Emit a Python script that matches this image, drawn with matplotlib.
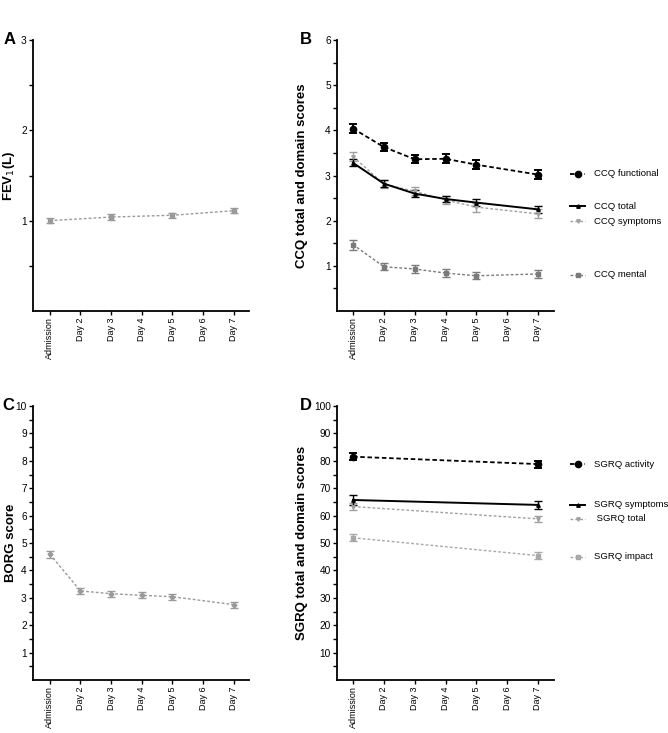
import numpy as np
import matplotlib.pyplot as plt

plt.rcParams['font.family'] = ['Liberation Sans', 'DejaVu Sans']

days = ["Admission", "Day 2", "Day 3", "Day 4", "Day 5", "Day 6", "Day 7"]

# FEV1 (L)
fev_x = [0, 2, 4, 6]
fev_mean = [1.00, 1.04, 1.06, 1.11]
fev_err = [0.03, 0.03, 0.03, 0.03]

# CCQ scores
ccq_x = [0, 1, 2, 3, 4, 6]
ccq_functional = [4.04, 3.63, 3.36, 3.37, 3.24, 3.02]
ccq_functional_err = [0.09, 0.08, 0.09, 0.10, 0.10, 0.10]
ccq_total = [3.28, 2.82, 2.60, 2.48, 2.40, 2.25]
ccq_total_err = [0.08, 0.07, 0.07, 0.07, 0.07, 0.07]
ccq_symptoms = [3.42, 2.81, 2.65, 2.46, 2.30, 2.15]
ccq_symptoms_err = [0.11, 0.09, 0.09, 0.09, 0.10, 0.10]
ccq_mental = [1.47, 0.98, 0.93, 0.84, 0.78, 0.82]
ccq_mental_err = [0.11, 0.08, 0.08, 0.08, 0.08, 0.08]

# BORG score
borg_x = [0, 1, 2, 3, 4, 6]
borg_mean = [4.59, 3.25, 3.15, 3.09, 3.04, 2.75]
borg_err = [0.13, 0.11, 0.11, 0.11, 0.11, 0.11]

# SGRQ scores
sgrq_x = [0, 6]
sgrq_activity = [81.5, 78.8]
sgrq_activity_err = [1.3, 1.3]
sgrq_symptoms = [65.7, 63.9]
sgrq_symptoms_err = [1.8, 1.6]
sgrq_total = [63.3, 58.8]
sgrq_total_err = [1.2, 1.1]
sgrq_impact = [51.9, 45.4]
sgrq_impact_err = [1.3, 1.2]

fig = plt.figure(figsize=(6.68, 7.33), dpi=100)
W, H = 668, 733


def make_ax(left, top, right, bottom):
    return fig.add_axes([left / W, 1 - bottom / H, (right - left) / W, (bottom - top) / H])


axA = make_ax(33, 40, 249, 311)
axB = make_ax(337, 40, 554, 311)
axC = make_ax(33, 406, 249, 680)
axD = make_ax(337, 406, 554, 680)


def style(ax, xlim, ylim, major, minor, label, label_x):
    ax.set_xlim(*xlim)
    ax.set_ylim(*ylim)
    for s in ["top", "right"]:
        ax.spines[s].set_visible(False)
    for s in ["left", "bottom"]:
        ax.spines[s].set_linewidth(1.3)
    ax.set_xticks(range(len(days)))
    ax.set_xticklabels(days, rotation=90, fontsize=6.5)
    ax.set_yticks(major)
    ax.set_yticklabels([str(v) for v in major], fontsize=7.3)
    ax.set_yticks(minor, minor=True)
    ax.tick_params(axis="both", which="major", length=3, width=1, pad=1.5)
    ax.tick_params(axis="y", which="minor", length=3, width=1)
    ax.set_ylabel(label, fontsize=9.5, fontweight="bold")
    ax.yaxis.set_label_coords(label_x, 0.5)


def series(ax, x, y, e, color, ls, marker, ms, lw=1.0, elw=1.0):
    ax.errorbar(x, y, yerr=e, color=color, ls=ls, lw=lw, marker=marker,
                ms=ms, capsize=2.8, elinewidth=elw, capthick=elw, clip_on=False)


def legend_entry(ax, yf, text, color, ls, marker, ms, lw):
    ax.plot([1.075, 1.145], [yf, yf], transform=ax.transAxes, color=color, ls=ls, lw=lw,
            clip_on=False)
    ax.plot([1.11], [yf], transform=ax.transAxes, color=color, marker=marker, ms=ms,
            clip_on=False)
    ax.text(1.185, yf, text, transform=ax.transAxes, fontsize=6.8, va="center")


# A
style(axA, (-0.55, 6.5), (0, 3), [1, 2, 3], [0.5, 1.5, 2.5], "FEV$_1$(L)", -0.072)
series(axA, fev_x, fev_mean, fev_err, "#9a9a9a", (0, (2, 1.5)), "s", 2.5, lw=1.0)

# B
style(axB, (-0.52, 6.52), (0, 6), [1, 2, 3, 4, 5, 6], [0.5, 1.5, 2.5, 3.5, 4.5, 5.5],
      "CCQ total and domain scores", -0.134)
series(axB, ccq_x, ccq_symptoms, ccq_symptoms_err, "#a0a0a0", (0, (2, 1.5)), "v", 2.5)
series(axB, ccq_x, ccq_mental, ccq_mental_err, "#7a7a7a", (0, (2, 1.5)), "s", 3)
series(axB, ccq_x, ccq_total, ccq_total_err, "black", "-", "^", 2.5, lw=1.4)
series(axB, ccq_x, ccq_functional, ccq_functional_err, "black", (0, (2.5, 1.5)), "o", 4.5,
       lw=1.3, elw=1.4)

legend_entry(axB, 0.506, "CCQ functional", "black", (0, (2.5, 1.5)), "o", 4.5, 1.3)
legend_entry(axB, 0.387, "CCQ total", "black", "-", "^", 2.5, 1.4)
legend_entry(axB, 0.332, "CCQ symptoms", "#a0a0a0", (0, (2, 1.5)), "v", 2.5, 1.0)
legend_entry(axB, 0.133, "CCQ mental", "#7a7a7a", (0, (2, 1.5)), "s", 3, 1.0)

# C
style(axC, (-0.55, 6.5), (0, 10), list(range(1, 11)), [v + 0.5 for v in range(10)],
      "BORG score", -0.072)
series(axC, borg_x, borg_mean, borg_err, "#9a9a9a", (0, (2, 1.5)), "D", 2.5)

# D
style(axD, (-0.52, 6.52), (0, 100), list(range(10, 101, 10)), list(range(5, 100, 10)),
      "SGRQ total and domain scores", -0.134)
series(axD, sgrq_x, sgrq_total, sgrq_total_err, "#a0a0a0", (0, (2, 1.5)), "v", 2.5)
series(axD, sgrq_x, sgrq_impact, sgrq_impact_err, "#a8a8a8", (0, (2, 1.5)), "s", 3)
series(axD, sgrq_x, sgrq_symptoms, sgrq_symptoms_err, "black", "-", "^", 2.5, lw=1.4)
series(axD, sgrq_x, sgrq_activity, sgrq_activity_err, "black", (0, (2.5, 1.5)), "o", 4.5,
       lw=1.3, elw=1.4)

legend_entry(axD, 0.787, "SGRQ activity", "black", (0, (2.5, 1.5)), "o", 4.5, 1.3)
legend_entry(axD, 0.639, "SGRQ symptoms", "black", "-", "^", 2.5, 1.4)
legend_entry(axD, 0.588, " SGRQ total", "#a0a0a0", (0, (2, 1.5)), "v", 2.5, 1.0)
legend_entry(axD, 0.450, "SGRQ impact", "#a8a8a8", (0, (2, 1.5)), "s", 3, 1.0)

# panel letters
for x, y, t in [(4, 40, "A"), (300, 40, "B"), (2, 406, "C"), (300, 406, "D")]:
    fig.text(x / W, 1 - y / H, t, fontsize=12, fontweight="bold", va="center", ha="left")

fig.savefig("out.png", dpi=100)
